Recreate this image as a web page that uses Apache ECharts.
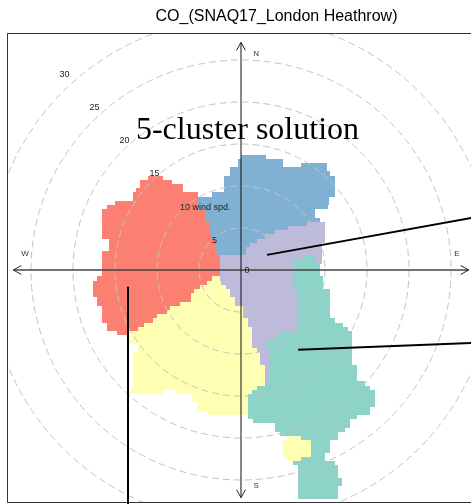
<!DOCTYPE html>
<html>
<head>
<meta charset="utf-8">
<script src="https://cdn.jsdelivr.net/npm/echarts@6/dist/echarts.min.js"></script>
<style>
  html, body { margin: 0; padding: 0; background: #fff; }
  #chart { width: 471px; height: 504px; }
</style>
</head>
<body>
<div id="chart"></div>
<script>
// Cluster cells on the wind-component plane (units: wind speed).
// Each row run is [v (north component), u start, u end]; rows are 0.5 units tall.
const cluster1 = [
  [1.5, 7.4, 8.8], [1, 6.2, 8.8], [0.5, 6.2, 9.4], [0, 6.2, 9.4], [-0.5, 6.2, 9.4],
  [-1, 6.2, 9.8], [-1.5, 6.2, 9.8], [-2, 6.2, 9.8], [-2.5, 6.8, 10.6], [-3, 6.8, 10.6],
  [-3.5, 6.8, 10.6], [-4, 6.8, 10.6], [-4.5, 6.8, 10.6], [-5, 6.8, 10.6], [-5.5, 6.8, 10.6],
  [-6, 6.8, 11.2], [-6.5, 6.8, 12.1], [-7, 6.8, 12.7], [-7.5, 4.6, 13.2], [-8, 4, 13.2],
  [-8.5, 3.2, 13.2], [-9, 3.2, 13.2], [-9.5, 3.2, 13.2], [-10, 3.5, 13.2], [-10.5, 3.5, 13.2],
  [-11, 3.5, 13.2], [-11.5, 3.5, 13.8], [-12, 3.5, 13.8], [-12.5, 3.5, 13.8], [-13, 3.5, 13.8],
  [-13.5, 2.9, 14.8], [-14, 1.9, 15.4], [-14.5, 1.3, 16], [-15, 0.8, 16], [-15.5, 0.8, 16],
  [-16, 0.8, 16], [-16.5, 0.8, 15.4], [-17, 0.8, 15.4], [-17.5, 0.8, 13.8], [-18, 1.4, 13],
  [-18.5, 4, 13], [-19, 4, 12.4], [-19.5, 4.6, 11.5], [-20, 7.2, 11.5], [-20.5, 8.3, 10.6],
  [-21, 8.3, 10.6], [-21.5, 8.3, 10.6], [-22, 8.3, 10], [-22.5, 7.2, 10], [-23, 6.2, 11.2],
  [-23.5, 6.8, 11.5], [-24, 6.8, 11.5], [-24.5, 6.8, 11.5], [-25, 6.8, 12], [-25.5, 6.8, 12],
  [-26, 6.8, 11.5], [-26.5, 6.8, 11.5], [-27, 6.8, 11.5]
];
const cluster2 = [
  [-1, -3.5, -2.5], [-1.5, -4.1, -2.4], [-2, -4.9, -1.8], [-2.5, -5.6, -1.3], [-3, -6, -1.3],
  [-3.5, -6, -0.7], [-4, -7.3, -0.7], [-4.5, -8.5, 0.2], [-5, -8.8, 0.2], [-5.5, -10, 0.2],
  [-6, -10.5, 0.8], [-6.5, -11.6, 0.8], [-7, -12.3, 1.3], [-7.5, -13.6, 1.3], [-8, -13.4, 1.3],
  [-8.5, -13.4, 1.3], [-9, -12.3, 1.3], [-9.5, -12.3, 1.9], [-10, -12.9, 2.3], [-10.5, -12.9, 2.3],
  [-11, -12.9, 2.3], [-11.5, -12.9, 2.9], [-12, -12.9, 2.9], [-12.5, -12.9, 2.9], [-13, -12.9, 2.9],
  [-13.5, -12.9, 2.9], [-14, -12.9, 1.9], [-14.5, -13.2, -9.3], [-14.5, -7.9, 1.3],
  [-15, -5.8, 0.8], [-15.5, -5.8, 0.8], [-16, -5.2, 0.8], [-16.5, -5.2, 0.8], [-17, -4, 0.8],
  [-20, 5.5, 7.2], [-20.5, 5, 8.3], [-21, 5, 8.3], [-21.5, 5, 8.3], [-22, 5, 8.3], [-22.5, 5.5, 7.2]
];
const cluster3 = [
  [5.5, 7.9, 10], [5, 5.6, 10], [4.5, 4, 10], [4, 2.9, 10], [3.5, 1.9, 10],
  [3, 1.1, 9.6], [2.5, 0.6, 9.6], [2, 0.6, 9.6], [1.5, -2.5, 7.4], [1.5, 8.8, 9.6],
  [1, -2.5, 6.2], [1, 8.8, 9.6], [0.5, -2.5, 6.2], [0, -2.5, 6.2], [-0.5, -2.5, 6.2],
  [-1, -2.5, 6.2], [-1.5, -2.4, 6.2], [-2, -1.8, 6.2], [-2.5, -1.3, 6.8], [-3, -1.3, 6.8],
  [-3.5, -0.7, 6.8], [-4, -0.7, 6.8], [-4.5, 0.2, 6.8], [-5, 0.2, 6.8], [-5.5, 0.2, 6.8],
  [-6, 0.8, 6.8], [-6.5, 0.8, 6.8], [-7, 1.3, 6.8], [-7.5, 1.3, 4.6], [-8, 1.3, 4],
  [-8.5, 1.3, 3.2], [-9, 1.3, 3.2], [-9.5, 1.9, 3.2], [-10, 2.3, 3.5], [-10.5, 2.3, 3.5],
  [-11, 2.3, 3.5], [-11.5, 2.9, 3.5], [-12, 2.9, 3.5], [-12.5, 2.9, 3.5], [-13, 2.9, 3.5]
];
const cluster4 = [
  [11, -11.1, -9.3], [10.5, -12, -8.2], [10, -12, -6.9], [9.5, -12.5, -6.9], [9, -12.9, -5.1],
  [8.5, -12.9, -5.1], [8, -15, -5.1], [7.5, -16, -5.1], [7, -16.5, -4.3], [6.5, -16.5, -4.3],
  [6, -16.5, -4.3], [5.5, -16.5, -3.7], [5, -16.5, -3.7], [4.5, -16.5, -3.7], [4, -16.5, -3.4],
  [3.5, -15.7, -3.1], [3, -15.7, -3.1], [2.5, -15.7, -3.1], [2, -16.5, -2.8], [1.5, -16.5, -2.5],
  [1, -16.5, -2.5], [0.5, -16.5, -2.5], [0, -16.5, -2.5], [-0.5, -16.5, -2.5], [-1, -17.1, -3.5],
  [-1.5, -17.6, -4.1], [-2, -17.6, -4.9], [-2.5, -17.6, -5.6], [-3, -17.6, -6], [-3.5, -17.1, -6],
  [-4, -17.1, -7.3], [-4.5, -16.5, -8.5], [-5, -16.5, -8.8], [-5.5, -16.5, -10], [-6, -16.5, -10.5],
  [-6.5, -16, -11.6], [-7, -16, -12.3], [-7.5, -14.8, -13.6]
];
const cluster5 = [
  [13.5, 0, 3], [13, -0.4, 5], [12.5, -0.4, 5], [12.5, 7.1, 10.2], [12, -1.3, 10.2],
  [11.5, -1.3, 10.6], [11, -2, 11.2], [10.5, -2, 11.2], [10, -2, 11.2], [9.5, -2, 11.2],
  [9, -3.5, 11.2], [8.5, -5.1, 10.5], [8, -5.1, 10.5], [7.5, -5.1, 10.4], [7, -4.3, 8.8],
  [6.5, -4.3, 8.8], [6, -4.3, 9.4], [5.5, -3.7, 7.9], [5, -3.7, 5.6], [4.5, -3.7, 4],
  [4, -3.4, 2.9], [3.5, -3.1, 1.9], [3, -3.1, 1.1], [2.5, -3.1, 0.6], [2, -2.8, 0.6]
];

const ringRadii = [5, 10, 15, 20, 25, 30];
const ringLabels = ['5', '10', '15', '20', '25', '30'];
const speedUnit = 'wind spd.';
const compassLabels = ['N', 'E', 'S', 'W'];
// Leader lines from cluster centres: [u0, v0, u1, v1]
const leaderLines = [
  [3.1, 1.8, 29.6, 6.6],
  [6.8, -9.5, 29.6, -8.6],
  [-13.45, -2.0, -13.45, -28.0]
];

const clusterColors = ['#8DD3C7', '#FFFFB3', '#BEBADA', '#FB8072', '#80B1D3'];
const clusters = [cluster1, cluster2, cluster3, cluster4, cluster5];

const W = 471, H = 504;
const PX = 8.4;              // pixels per wind-speed unit
const CX = 241, CY = 270;    // plot origin in pixels
const GRID = { left: 8, top: 33, width: W - 8, height: 469 };
const xMin = (GRID.left - CX) / PX, xMax = xMin + GRID.width / PX;
const yMax = (CY - GRID.top) / PX, yMin = yMax - GRID.height / PX;
const ROW = 0.5;
const ARM = 27.1;            // compass arm length
const FONT = "'Liberation Sans', Arial, sans-serif";

function runRenderer(color) {
  return function (params, api) {
    const v = api.value(0), u0 = api.value(1), u1 = api.value(2);
    const a = api.coord([u0, v + ROW / 2]);
    const b = api.coord([u1, v - ROW / 2]);
    const x0 = Math.round(a[0]), x1 = Math.round(b[0]);
    const y0 = Math.round(a[1]), y1 = Math.round(b[1]);
    return { type: 'rect', shape: { x: x0, y: y0, width: x1 - x0, height: y1 - y0 }, style: { fill: color } };
  };
}

const series = clusters.map((runs, i) => ({
  name: 'cluster ' + (i + 1),
  type: 'custom',
  coordinateSystem: 'cartesian2d',
  data: runs,
  encode: { x: [1, 2], y: 0 },
  renderItem: runRenderer(clusterColors[i]),
  z: 1,
  silent: true
}));

// dashed speed rings
series.push({
  type: 'custom',
  coordinateSystem: 'cartesian2d',
  clip: true,
  data: ringRadii.map(r => [0, 0, r]),
  encode: { x: 0, y: 1 },
  z: 2,
  silent: true,
  renderItem: function (params, api) {
    const c = api.coord([0, 0]);
    const r = api.size([api.value(2), 0])[0];
    return {
      type: 'circle',
      shape: { cx: c[0], cy: c[1], r: r },
      style: { fill: 'none', stroke: '#c4c4c4', lineWidth: 1, lineDash: [7, 4] }
    };
  }
});

// compass arms with open arrowheads
function arrowHead(tip, dir) {
  const L = 8, HW = 4.5;
  const bx = tip[0] - dir[0] * L, by = tip[1] - dir[1] * L;
  const px = -dir[1] * HW, py = dir[0] * HW;
  return {
    type: 'polyline',
    shape: { points: [[bx + px, by + py], tip, [bx - px, by - py]] },
    style: { fill: 'none', stroke: '#222', lineWidth: 1 }
  };
}
series.push({
  type: 'custom',
  coordinateSystem: 'cartesian2d',
  data: [[-ARM, 0, ARM, 0], [0, ARM, 0, -ARM]],
  encode: { x: [0, 2], y: [1, 3] },
  z: 3,
  silent: true,
  renderItem: function (params, api) {
    const p0 = api.coord([api.value(0), api.value(1)]);
    const p1 = api.coord([api.value(2), api.value(3)]);
    const len = Math.hypot(p1[0] - p0[0], p1[1] - p0[1]);
    const d = [(p1[0] - p0[0]) / len, (p1[1] - p0[1]) / len];
    return {
      type: 'group',
      children: [
        { type: 'line', shape: { x1: p0[0], y1: p0[1], x2: p1[0], y2: p1[1] },
          style: { stroke: params.dataIndex === 0 ? '#444' : '#111', lineWidth: params.dataIndex === 0 ? 1.3 : 1 } },
        arrowHead(p1, d),
        arrowHead(p0, [-d[0], -d[1]])
      ]
    };
  }
});

// compass letters
const compassDirs = { N: [0, 1], E: [1, 0], S: [0, -1], W: [-1, 0] };
series.push({
  type: 'custom',
  coordinateSystem: 'cartesian2d',
  data: compassLabels.map(k => {
    const d = compassDirs[k];
    const off = d[0] === 0 ? [1.8, 0] : [0, 1.9];
    return [d[0] * 25.7 + off[0], d[1] * 25.7 + off[1]];
  }),
  encode: { x: 0, y: 1 },
  z: 4,
  silent: true,
  renderItem: function (params, api) {
    const p = api.coord([api.value(0), api.value(1)]);
    return {
      type: 'text',
      style: { text: compassLabels[params.dataIndex], x: p[0], y: p[1], fill: '#333',
        font: '8px ' + FONT, align: 'center', verticalAlign: 'middle',
        textAlign: 'center', textVerticalAlign: 'middle' }
    };
  }
});

// ring speed labels along the north-west diagonal
const LABEL_ANGLE = 132 * Math.PI / 180;
series.push({
  type: 'custom',
  coordinateSystem: 'cartesian2d',
  data: ringRadii.map(r => {
    const rl = 1.066 * r - 0.6;
    return [rl * Math.cos(LABEL_ANGLE), rl * Math.sin(LABEL_ANGLE)];
  }).concat([[0, 0]]),
  encode: { x: 0, y: 1 },
  z: 4,
  silent: true,
  renderItem: function (params, api) {
    const p = api.coord([api.value(0), api.value(1)]);
    const i = params.dataIndex;
    let text, x = p[0], y = p[1], align = 'center';
    if (i === ringLabels.length) { text = '0'; x += 6; y += 1; }
    else if (ringLabels[i] === '10') { text = '10 ' + speedUnit; x -= 4.5; align = 'left'; }
    else { text = ringLabels[i]; }
    return {
      type: 'text',
      style: { text: text, x: x, y: y, fill: '#222', font: '9px ' + FONT,
        align: align, verticalAlign: 'middle', textAlign: align, textVerticalAlign: 'middle' }
    };
  }
});

// leader lines to the cluster labels
series.push({
  type: 'custom',
  coordinateSystem: 'cartesian2d',
  data: leaderLines,
  encode: { x: [0, 2], y: [1, 3] },
  z: 5,
  silent: true,
  renderItem: function (params, api) {
    const p0 = api.coord([api.value(0), api.value(1)]);
    const p1 = api.coord([api.value(2), api.value(3)]);
    return {
      type: 'line',
      shape: { x1: p0[0], y1: p0[1], x2: p1[0], y2: p1[1] },
      style: { stroke: '#000', lineWidth: 2 }
    };
  }
});

const chart = echarts.init(document.getElementById('chart'), null, { renderer: 'canvas' });
chart.setOption({
  animation: false,
  backgroundColor: '#fff',
  grid: {
    left: GRID.left, top: GRID.top, width: GRID.width, height: GRID.height, show: false
  },
  xAxis: { type: 'value', min: xMin, max: xMax, show: false },
  yAxis: { type: 'value', min: yMin, max: yMax, show: false },
  graphic: [
    // panel frame; the right side runs past the page edge
    { type: 'polyline', z: 10, silent: true,
      shape: { points: [[W + 2, GRID.top + 0.5], [GRID.left - 0.5, GRID.top + 0.5],
        [GRID.left - 0.5, GRID.top + GRID.height + 0.5], [W + 2, GRID.top + GRID.height + 0.5]] },
      style: { fill: 'none', stroke: '#333', lineWidth: 1 } },
    { type: 'text', x: 276.5, y: 17, z: 10,
      style: { text: 'CO_(SNAQ17_London Heathrow)', font: '16px ' + FONT, fill: '#000',
        align: 'center', verticalAlign: 'middle', textAlign: 'center', textVerticalAlign: 'middle' } },
    { type: 'text', x: 247.5, y: 131, z: 10,
      style: { text: '5-cluster solution', font: "32px 'Liberation Serif', 'Times New Roman', serif", fill: '#000',
        align: 'center', verticalAlign: 'middle', textAlign: 'center', textVerticalAlign: 'middle' } }
  ],
  series: series
});
</script>
</body>
</html>
